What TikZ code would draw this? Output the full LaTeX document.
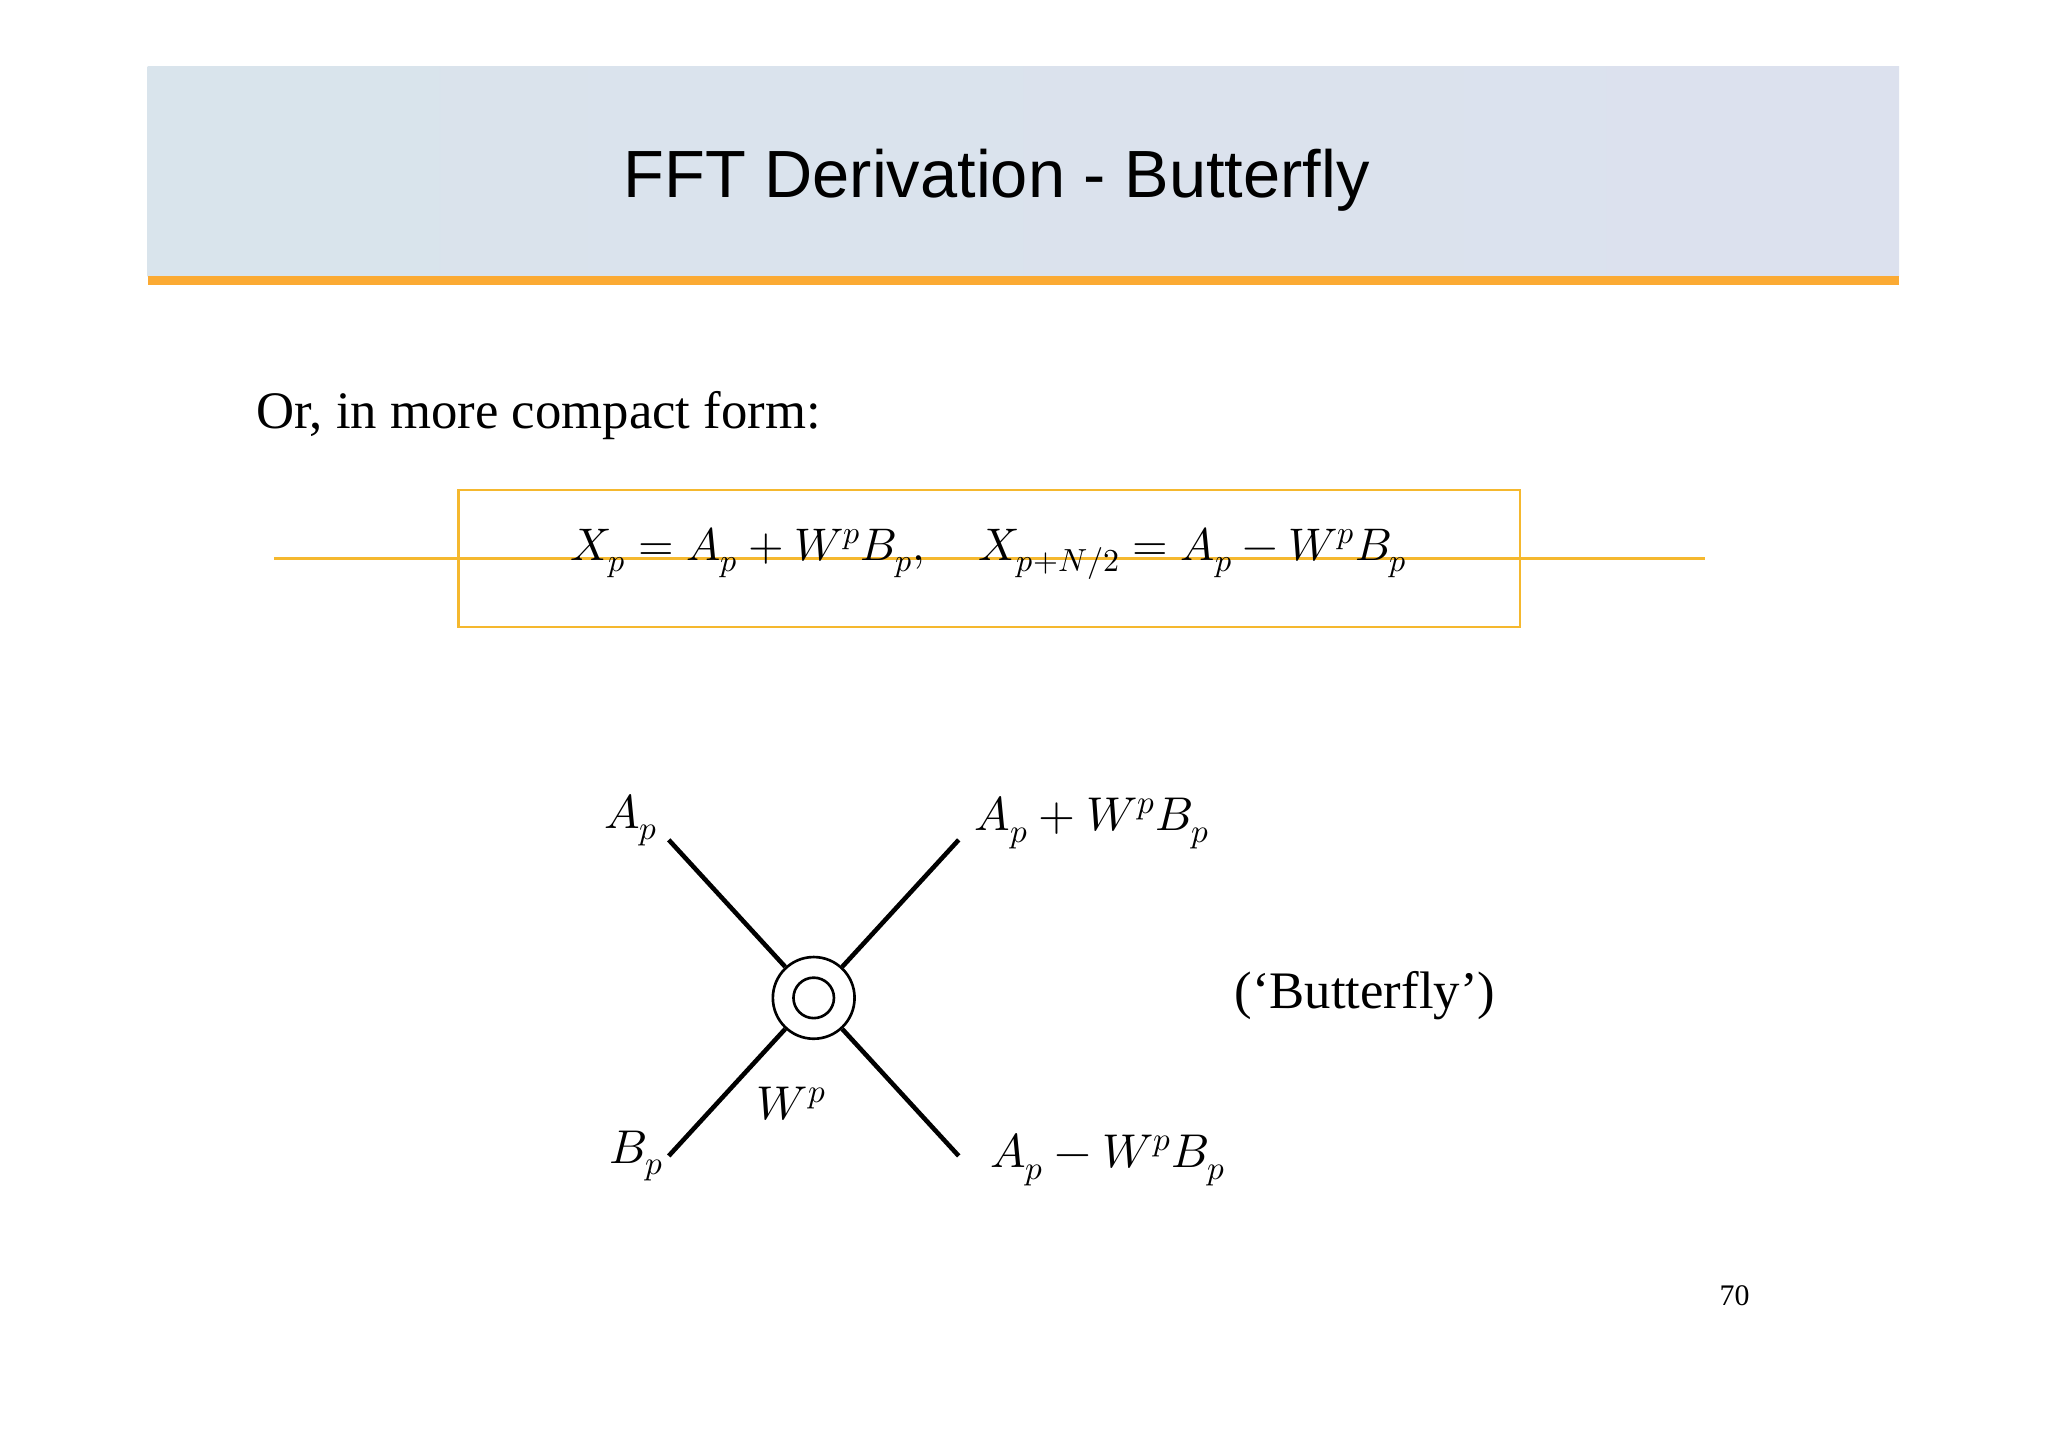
\documentclass[tikz,border=0pt]{standalone}
\usepackage{fontspec}
\setmainfont{Liberation Serif}
\newfontfamily\arialf{Liberation Sans}
\usepackage{unicode-math}
\setmathfont{Latin Modern Math}
\definecolor{band}{HTML}{D9E4EC}
\definecolor{bandb}{HTML}{DCE1EE}
\definecolor{orng}{HTML}{FBAA33}
\definecolor{boxo}{HTML}{F5B82E}
\tikzset{wire/.style={line width=2.6pt,black},
lab/.style={inner sep=0pt,font=\fontsize{27}{30}\selectfont}}
\begin{document}
\begin{tikzpicture}[x=0.026122cm,y=-0.026122cm]
\useasboundingbox[fill=white] (0,0) rectangle (1568,1108);
\shade[left color=band,right color=bandb] (113,51) rectangle (1454,212);
\fill[orng] (113,211) rectangle (1454,218);
\node[font=\arialf\fontsize{38}{42}\selectfont] (title) at (763,138) {FFT Derivation - Butterfly};
\node[anchor=west,inner sep=0pt,font=\fontsize{30}{34}\selectfont] (or) at (196,318) {Or, in more compact form:};
\node[draw=boxo,line width=1pt,minimum width=813\pgflinewidth,inner sep=0pt] (box) at (757.5,427.5) {};
\draw[boxo,line width=1.2pt] (351,375) rectangle (1164,480);
\node[inner sep=0pt,font=\fontsize{26}{30}\selectfont] (eq) at (757,424) {$X_p=A_p+W^pB_p,\quad X_{p+N/2}=A_p-W^pB_p$};
\node[circle,draw,line width=1.5pt,minimum size=31\pgflinewidth,inner sep=0pt,fill=white] (c) at (623,764) {};
\coordinate (a) at (512,643);
\coordinate (b) at (734,643);
\coordinate (d) at (512,885);
\coordinate (e) at (734,885);
\draw[wire] (a) -- (c) (b) -- (c) (d) -- (c) (e) -- (c);
\draw[line width=1.5pt,fill=white] (c) circle[radius=15.5];
\node[lab,anchor=east] (la) at (504,628) {$A_p$};
\node[lab,anchor=west] (lb) at (746,630) {$A_p+W^pB_p$};
\node[lab,anchor=east] (ld) at (508,885) {$B_p$};
\node[lab,anchor=west] (le) at (758,888) {$A_p-W^pB_p$};
\node[lab] (lw) at (606,845) {$W^p$};
\node[inner sep=0pt,font=\fontsize{30}{34}\selectfont] (bf) at (1045,762) {(‘Butterfly’)};
\node[inner sep=0pt,font=\fontsize{17}{20}\selectfont] (pg) at (1328,992) {70};
\end{tikzpicture}
\end{document}
